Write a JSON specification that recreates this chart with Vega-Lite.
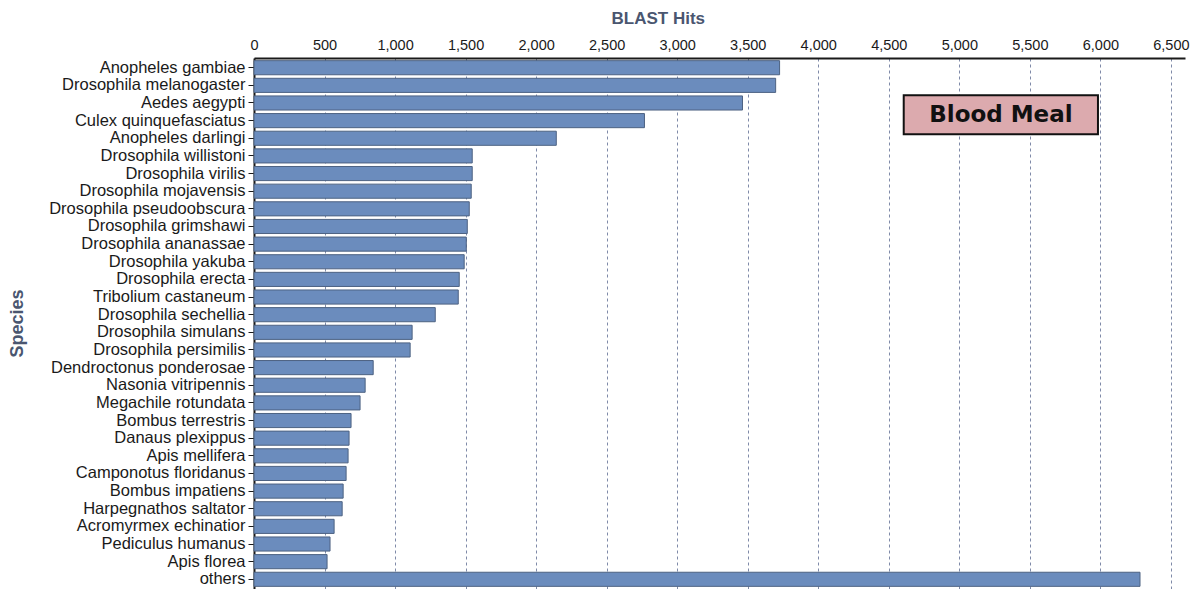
{
  "$schema": "https://vega.github.io/schema/vega-lite/v6.json",
  "autosize": "none",
  "padding": {"left": 254, "top": 58, "right": 16, "bottom": 0},
  "width": 931,
  "height": 531,
  "background": "white",
  "config": {
    "view": {"stroke": null},
    "font": "Liberation Sans"
  },
  "datasets": {
    "hits": [
      {"species": "Anopheles gambiae", "hits": 3726},
      {"species": "Drosophila melanogaster", "hits": 3698},
      {"species": "Aedes aegypti", "hits": 3463},
      {"species": "Culex quinquefasciatus", "hits": 2768},
      {"species": "Anopheles darlingi", "hits": 2143},
      {"species": "Drosophila willistoni", "hits": 1547},
      {"species": "Drosophila virilis", "hits": 1547},
      {"species": "Drosophila mojavensis", "hits": 1540},
      {"species": "Drosophila pseudoobscura", "hits": 1526},
      {"species": "Drosophila grimshawi", "hits": 1512},
      {"species": "Drosophila ananassae", "hits": 1505},
      {"species": "Drosophila yakuba", "hits": 1490},
      {"species": "Drosophila erecta", "hits": 1455},
      {"species": "Tribolium castaneum", "hits": 1448},
      {"species": "Drosophila sechellia", "hits": 1285},
      {"species": "Drosophila simulans", "hits": 1121},
      {"species": "Drosophila persimilis", "hits": 1107},
      {"species": "Dendroctonus ponderosae", "hits": 845},
      {"species": "Nasonia vitripennis", "hits": 788},
      {"species": "Megachile rotundata", "hits": 752},
      {"species": "Bombus terrestris", "hits": 688},
      {"species": "Danaus plexippus", "hits": 674},
      {"species": "Apis mellifera", "hits": 667},
      {"species": "Camponotus floridanus", "hits": 653},
      {"species": "Bombus impatiens", "hits": 632},
      {"species": "Harpegnathos saltator", "hits": 625},
      {"species": "Acromyrmex echinatior", "hits": 568},
      {"species": "Pediculus humanus", "hits": 539},
      {"species": "Apis florea", "hits": 518},
      {"species": "others", "hits": 6281}
    ],
    "label": [
      {"text": "Blood Meal", "x0": 4606, "x1": 5983, "xm": 5295, "y0": 2.1, "y1": 4.31, "ym": 3.22}
    ]
  },
  "layer": [
    {
      "data": {"name": "hits"},
      "mark": {"type": "bar", "fill": "#6b8cbd", "stroke": "#4d6282", "strokeWidth": 1},
      "encoding": {
        "y": {
          "field": "species",
          "type": "nominal",
          "sort": null,
          "scale": {"paddingInner": 0.2, "paddingOuter": 0.15},
          "axis": {
            "title": "Species",
            "titleFontSize": 18,
            "titleFontWeight": "bold",
            "titleColor": "#4a5670",
            "titleAngle": -90,
            "titleX": -237,
            "titleY": 265,
            "titleAlign": "center",
            "titleBaseline": "middle",
            "labelFontSize": 16.5,
            "labelLimit": 300,
            "labelColor": "#1a1a1a",
            "labelPadding": 3,
            "tickSize": 6,
            "tickColor": "#1a1a1a",
            "domainColor": "#1a1a1a",
            "domainWidth": 2
          }
        },
        "x": {
          "field": "hits",
          "type": "quantitative",
          "scale": {"domain": [0, 6600], "nice": false},
          "axis": {
            "orient": "top",
            "title": "BLAST Hits",
            "titleFontSize": 17,
            "titleFontWeight": "bold",
            "titleColor": "#4a5670",
            "titleAnchor": "start",
            "titleX": 357,
            "titleAlign": "left",
            "titlePadding": 10,
            "values": [0, 500, 1000, 1500, 2000, 2500, 3000, 3500, 4000, 4500, 5000, 5500, 6000, 6500],
            "format": ",d",
            "labelFontSize": 14.5,
            "labelColor": "#1a1a1a",
            "labelPadding": 6,
            "labelFlush": false,
            "ticks": false,
            "domainColor": "#1a1a1a",
            "domainWidth": 2,
            "grid": true,
            "gridColor": "#7f8aa8",
            "gridDash": [3, 3],
            "gridWidth": 1
          }
        }
      }
    },
    {
      "data": {"name": "label"},
      "mark": {"type": "rect", "fill": "#dcaaae", "stroke": "#111111", "strokeWidth": 2},
      "encoding": {
        "x": {"field": "x0", "type": "quantitative"},
        "x2": {"field": "x1"},
        "y": {"field": "y0", "type": "quantitative", "scale": {"domain": [0, 30], "reverse": true}, "axis": null},
        "y2": {"field": "y1"}
      }
    },
    {
      "data": {"name": "label"},
      "mark": {"type": "text", "font": "DejaVu Sans", "fontWeight": "bold", "fontSize": 23, "color": "#111111", "align": "center", "baseline": "middle"},
      "encoding": {
        "x": {"field": "xm", "type": "quantitative"},
        "y": {"field": "ym", "type": "quantitative", "scale": {"domain": [0, 30], "reverse": true}, "axis": null},
        "text": {"field": "text"}
      }
    }
  ],
  "resolve": {"scale": {"y": "independent"}}
}
